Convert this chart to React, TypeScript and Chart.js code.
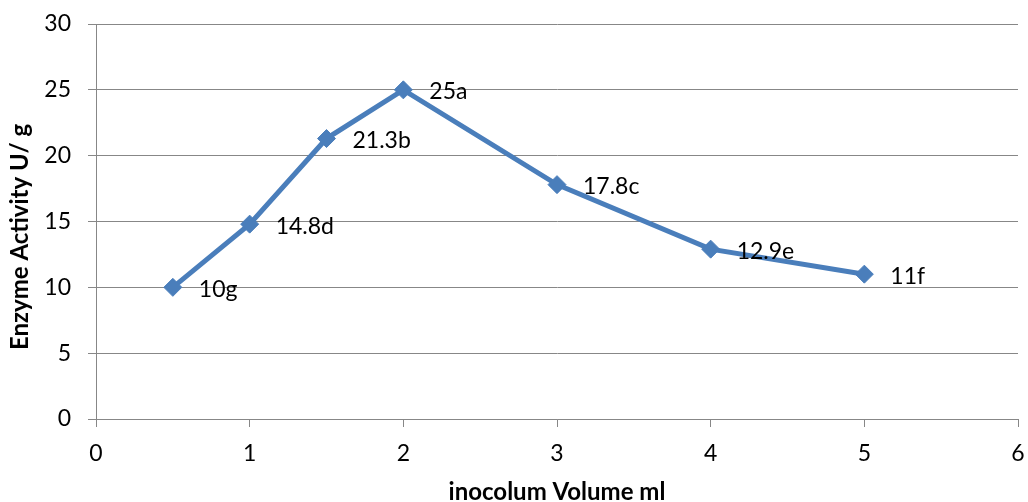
import React, { useEffect, useRef } from "react";
import { Chart, registerables } from "chart.js";

Chart.register(...registerables);

const xValues = [0.5, 1, 1.5, 2, 3, 4, 5];
const yValues = [10, 14.8, 21.3, 25, 17.8, 12.9, 11];
const pointLabels = ["10g", "14.8d", "21.3b", "25a", "17.8c", "12.9e", "11f"];
const xTitle = "inocolum Volume ml";
const yTitle = "Enzyme Activity U/ g";

const FONT = "Lato, 'Liberation Sans', sans-serif";
const LINE_COLOR = "#4a7ebb";
const GRID_COLOR = "#878787";

export default function App() {
  const canvasRef = useRef<HTMLCanvasElement | null>(null);

  useEffect(() => {
    document.body.style.margin = "0";
    const canvas = canvasRef.current;
    if (!canvas) return;

    const labelPlugin = {
      id: "pointLabels",
      afterDatasetsDraw(chart: any) {
        const ctx = chart.ctx;
        const meta = chart.getDatasetMeta(0);
        ctx.save();
        ctx.font = `23px ${FONT}`;
        ctx.fillStyle = "#000";
        ctx.textAlign = "left";
        ctx.textBaseline = "middle";
        meta.data.forEach((el: any, i: number) => {
          ctx.fillText(pointLabels[i], el.x + 26, el.y + 2);
        });
        ctx.restore();
      },
    };

    const titlePlugin = {
      id: "axisTitles",
      afterDraw(chart: any) {
        const ctx = chart.ctx;
        const area = chart.chartArea;
        ctx.save();
        ctx.font = `bold 24px ${FONT}`;
        ctx.fillStyle = "#000";
        ctx.textAlign = "center";
        ctx.textBaseline = "middle";
        ctx.fillText(xTitle, (area.left + area.right) / 2, 492);
        ctx.translate(20, 237);
        ctx.rotate(-Math.PI / 2);
        ctx.fillText(yTitle, 0, 0);
        ctx.restore();
      },
    };

    const chart = new Chart(canvas, {
      type: "line",
      data: {
        datasets: [
          {
            data: xValues.map((x, i) => ({ x, y: yValues[i] })),
            borderColor: LINE_COLOR,
            backgroundColor: LINE_COLOR,
            borderWidth: 5,
            pointStyle: "rectRot",
            pointRadius: 9,
            pointBorderWidth: 1,
            pointBackgroundColor: LINE_COLOR,
            pointBorderColor: LINE_COLOR,
            tension: 0,
            clip: false,
          },
        ],
      },
      options: {
        animation: false,
        responsive: false,
        maintainAspectRatio: false,
        layout: { padding: { left: 0, top: 24, right: 7, bottom: 0 } },
        plugins: {
          legend: { display: false },
          tooltip: { enabled: false },
        },
        scales: {
          x: {
            type: "linear",
            min: 0,
            max: 6,
            ticks: {
              stepSize: 1,
              color: "#000",
              font: { family: FONT, size: 23 },
              padding: 13,
            },
            grid: {
              display: true,
              drawOnChartArea: false,
              drawTicks: true,
              tickLength: 8,
              color: GRID_COLOR,
              lineWidth: 1,
            },
            border: { display: true, color: GRID_COLOR, width: 1 },
            afterFit(scale: any) {
              scale.height = 83;
              scale.paddingLeft = 0;
              scale.paddingRight = 0;
            },
          },
          y: {
            min: 0,
            max: 30,
            ticks: {
              stepSize: 5,
              color: "#000",
              font: { family: FONT, size: 23 },
              padding: 17,
            },
            grid: {
              display: true,
              drawOnChartArea: true,
              drawTicks: true,
              tickLength: 8,
              color: GRID_COLOR,
              lineWidth: 1,
            },
            border: { display: true, color: GRID_COLOR, width: 1 },
            afterFit(scale: any) {
              scale.width = 96;
              scale.paddingTop = 0;
              scale.paddingBottom = 0;
            },
          },
        },
      },
      plugins: [labelPlugin, titlePlugin],
    } as any);

    return () => chart.destroy();
  }, []);

  return (
    <div style={{ position: "absolute", left: 0, top: 0, width: 1028, height: 502 }}>
      <canvas ref={canvasRef} width={1028} height={502} style={{ width: 1028, height: 502 }} />
    </div>
  );
}
